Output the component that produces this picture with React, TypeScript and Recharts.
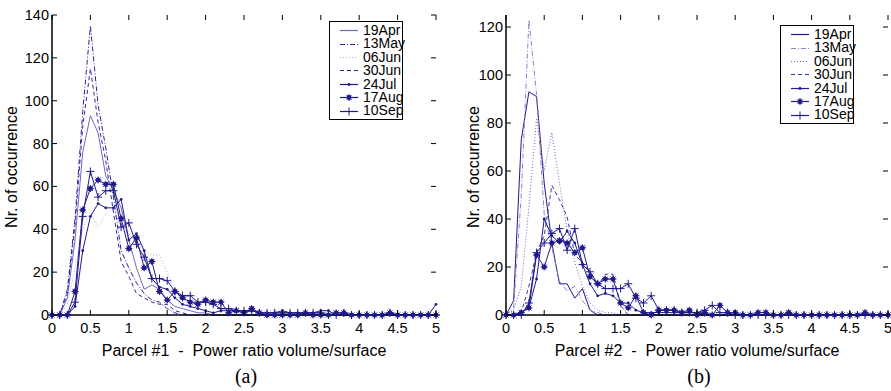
import { LineChart, Line, XAxis, YAxis } from "recharts";

// histogram bins (power ratio volume/surface)
const BINS = [
  0, 0.1, 0.2, 0.3, 0.4, 0.5, 0.6, 0.7, 0.8, 0.9,
  1, 1.1, 1.2, 1.3, 1.4, 1.5, 1.6, 1.7, 1.8, 1.9,
  2, 2.1, 2.2, 2.3, 2.4, 2.5, 2.6, 2.7, 2.8, 2.9,
  3, 3.1, 3.2, 3.3, 3.4, 3.5, 3.6, 3.7, 3.8, 3.9,
  4, 4.1, 4.2, 4.3, 4.4, 4.5, 4.6, 4.7, 4.8, 4.9, 5,
];
const X_TICKS = [0, 0.5, 1, 1.5, 2, 2.5, 3, 3.5, 4, 4.5, 5];
const A_Y_TICKS = [0, 20, 40, 60, 80, 100, 120, 140];
const B_Y_TICKS = [0, 20, 40, 60, 80, 100, 120];
const DATES = ["19Apr", "13May", "06Jun", "30Jun", "24Jul", "17Aug", "10Sep"];

// Parcel #1
const A_19APR = [
  0, 0, 8, 35, 76, 93, 85, 65, 58, 50,
  35, 22, 12, 14, 12, 7, 4, 3, 2, 1,
  1, 0, 0, 0, 0, 0, 0, 0, 0, 0,
  0, 0, 0, 0, 0, 0, 0, 0, 0, 0,
  0, 0, 0, 0, 0, 0, 0, 0, 0, 0, 0,
];
const A_13MAY = [
  0, 0, 12, 45, 95, 135, 98, 78, 55, 30,
  22, 15, 10, 7, 6, 3, 1, 0, 0, 0,
  0, 0, 0, 0, 0, 0, 0, 0, 0, 0,
  0, 0, 0, 0, 0, 0, 0, 0, 0, 0,
  0, 0, 0, 0, 0, 0, 0, 0, 0, 0, 0,
];
const A_06JUN = [
  0, 0, 5, 22, 40, 48, 41, 47, 50, 47,
  38, 33, 30, 28, 28, 20, 12, 9, 10, 8,
  5, 4, 3, 2, 2, 2, 1, 1, 2, 2,
  1, 1, 1, 0, 0, 0, 0, 0, 0, 0,
  0, 0, 0, 0, 0, 0, 0, 0, 0, 0, 0,
];
const A_30JUN = [
  0, 0, 10, 42, 88, 115, 90, 72, 48, 25,
  18, 10, 8, 6, 5, 5, 2, 1, 0, 0,
  0, 0, 0, 0, 0, 0, 0, 0, 0, 0,
  0, 0, 0, 0, 0, 0, 0, 0, 0, 0,
  0, 0, 0, 0, 0, 0, 0, 0, 0, 0, 0,
];
const A_24JUL = [
  0, 0, 0, 4, 30, 46, 52, 50, 50, 54,
  35, 38, 30, 17, 13, 12, 8, 5, 4, 3,
  2, 1, 2, 2, 2, 1, 2, 1, 1, 1,
  2, 1, 1, 1, 1, 2, 2, 0, 0, 0,
  0, 0, 0, 0, 0, 0, 0, 0, 0, 0, 5,
];
const A_17AUG = [
  0, 0, 0, 11, 49, 59, 63, 61, 61, 45,
  31, 36, 22, 25, 11, 7, 11, 8, 6, 5,
  7, 6, 6, 1, 2, 1, 3, 1, 0, 0,
  0, 0, 0, 1, 0, 0, 0, 1, 1, 0,
  0, 0, 0, 0, 1, 0, 0, 0, 0, 0, 0,
];
const A_10SEP = [
  0, 0, 0, 6, 46, 67, 55, 58, 58, 41,
  43, 33, 27, 17, 17, 16, 11, 9, 9, 6,
  6, 5, 3, 3, 2, 2, 2, 1, 1, 1,
  1, 1, 1, 1, 1, 1, 0, 0, 1, 0,
  0, 0, 0, 0, 1, 0, 0, 0, 0, 0, 0,
];

// Parcel #2
const B_19APR = [
  0, 6, 73, 93, 91, 55, 30, 13, 13, 7,
  11, 2, 0, 0, 0, 0, 0, 0, 0, 0,
  0, 0, 0, 0, 0, 0, 0, 0, 0, 0,
  0, 0, 0, 0, 0, 0, 0, 0, 0, 0,
  0, 0, 0, 0, 0, 0, 0, 0, 0, 0, 0,
];
const B_13MAY = [
  0, 3, 50, 123, 92, 42, 28, 14, 10, 12,
  6, 2, 1, 0, 0, 0, 0, 0, 0, 0,
  0, 0, 0, 0, 0, 0, 0, 0, 0, 0,
  0, 0, 0, 0, 0, 0, 0, 0, 0, 0,
  0, 0, 0, 0, 0, 0, 0, 0, 0, 0, 0,
];
const B_06JUN = [
  0, 2, 12, 45, 82, 60, 76, 55, 35, 22,
  12, 5, 2, 1, 1, 0, 0, 0, 0, 0,
  0, 0, 0, 0, 0, 0, 0, 0, 0, 0,
  0, 0, 0, 0, 0, 0, 0, 0, 0, 0,
  0, 0, 0, 0, 0, 0, 0, 0, 0, 0, 0,
];
const B_30JUN = [
  0, 0, 1, 12, 26, 33, 54, 48, 41, 25,
  22, 18, 12, 17, 17, 4, 0, 0, 0, 0,
  0, 0, 0, 0, 0, 0, 0, 0, 0, 0,
  0, 0, 0, 0, 0, 0, 0, 0, 0, 0,
  0, 0, 0, 0, 0, 0, 0, 0, 0, 0, 0,
];
const B_24JUL = [
  0, 0, 1, 3, 15, 40, 33, 30, 35, 30,
  21, 13, 8, 9, 8, 5, 5, 2, 1, 1,
  1, 1, 1, 1, 1, 1, 0, 0, 0, 0,
  0, 0, 0, 0, 0, 0, 0, 0, 0, 0,
  0, 0, 0, 0, 0, 0, 0, 0, 0, 0, 0,
];
const B_17AUG = [
  0, 0, 1, 3, 25, 20, 30, 31, 30, 26,
  28, 16, 13, 15, 15, 5, 3, 8, 1, 0,
  2, 2, 2, 1, 2, 0, 1, 0, 4, 1,
  1, 0, 0, 1, 1, 0, 0, 1, 0, 0,
  0, 0, 0, 0, 0, 0, 0, 1, 0, 0, 0,
];
const B_10SEP = [
  0, 0, 0, 5, 26, 30, 34, 36, 27, 36,
  21, 18, 13, 11, 11, 11, 13, 7, 5, 8,
  2, 2, 2, 1, 1, 1, 2, 4, 1, 1,
  0, 0, 0, 0, 0, 0, 0, 0, 0, 0,
  0, 0, 0, 0, 0, 0, 0, 0, 0, 0, 0,
];

const A_SERIES = [A_19APR, A_13MAY, A_06JUN, A_30JUN, A_24JUL, A_17AUG, A_10SEP];
const B_SERIES = [B_19APR, B_13MAY, B_06JUN, B_30JUN, B_24JUL, B_17AUG, B_10SEP];

const NAVY = "#1f1a8c";
const A_COLORS = ["#6f68c0", "#2a229e", "#b3afdc", "#2f28a4", NAVY, NAVY, NAVY];
const B_COLORS = [NAVY, "#8a84cc", "#6d66bc", "#3a32a8", NAVY, NAVY, NAVY];
const DASHES = [undefined, "5 2 1 2", "1 2", "4 3", undefined, undefined, undefined];
const MARKERS = ["none", "none", "none", "none", "dot", "star", "plus"];

const FONT = "'Liberation Sans', Arial, Helvetica, sans-serif";

function toRows(series: number[][]) {
  return BINS.map((x, i) => {
    const row: Record<string, number> = { x };
    series.forEach((s, k) => (row[DATES[k]] = s[i]));
    return row;
  });
}

function Marker({ kind, cx, cy, color }: { kind: string; cx: number; cy: number; color: string }) {
  if (kind === "dot") return <circle cx={cx} cy={cy} r={1.4} fill={color} />;
  if (kind === "plus")
    return (
      <g stroke={color} strokeWidth={1}>
        <line x1={cx - 4} x2={cx + 4} y1={cy} y2={cy} />
        <line x1={cx} x2={cx} y1={cy - 4} y2={cy + 4} />
      </g>
    );
  if (kind === "star")
    return (
      <g stroke={color} strokeWidth={1}>
        <line x1={cx - 3.5} x2={cx + 3.5} y1={cy} y2={cy} />
        <line x1={cx} x2={cx} y1={cy - 3.5} y2={cy + 3.5} />
        <line x1={cx - 2.5} x2={cx + 2.5} y1={cy - 2.5} y2={cy + 2.5} />
        <line x1={cx - 2.5} x2={cx + 2.5} y1={cy + 2.5} y2={cy - 2.5} />
        <circle cx={cx} cy={cy} r={2} fill={color} />
      </g>
    );
  return null;
}

function XTick(props: any) {
  const { x, payload, top, bottom } = props;
  return (
    <g>
      <line x1={x} x2={x} y1={bottom} y2={bottom - 5} stroke="#000" />
      <line x1={x} x2={x} y1={top} y2={top + 5} stroke="#000" />
      <text x={x} y={bottom + 18} textAnchor="middle" fontSize={14.5} fill="#000">
        {payload.value}
      </text>
    </g>
  );
}

function YTick(props: any) {
  const { y, payload, left, right } = props;
  return (
    <g>
      <line x1={left} x2={left + 5} y1={y} y2={y} stroke="#000" />
      <line x1={right} x2={right - 5} y1={y} y2={y} stroke="#000" />
      <text x={left - 3} y={y + 5} textAnchor="end" fontSize={14.5} fill="#000">
        {payload.value}
      </text>
    </g>
  );
}

function LegendBox({ colors, left, top }: { colors: string[]; left: number; top: number }) {
  return (
    <div
      style={{
        position: "absolute",
        left,
        top,
        width: 72,
        border: "1.5px solid #000",
        background: "#fff",
        fontFamily: FONT,
        fontSize: 14,
        padding: "2px 0 1px",
      }}
    >
      {DATES.map((d, k) => (
        <div key={d} style={{ display: "flex", alignItems: "center", height: 13.4, lineHeight: "13.4px" }}>
          <svg width={33} height={13} style={{ flex: "none" }}>
            <line x1={10} x2={28} y1={6.5} y2={6.5} stroke={colors[k]} strokeWidth={1.2} strokeDasharray={DASHES[k]} />
            <Marker kind={MARKERS[k]} cx={19} cy={6.5} color={colors[k]} />
          </svg>
          <span style={{ whiteSpace: "nowrap" }}>{d}</span>
        </div>
      ))}
    </div>
  );
}

type PanelProps = {
  series: number[][];
  colors: string[];
  yMax: number;
  yTicks: number[];
  axisWidth: number;
  width: number;
  marginRight: number;
  labelX: number;
  parcel: string;
  tag: string;
  legendPos: { left: number; top: number };
};

function Panel({ series, colors, yMax, yTicks, axisWidth, width, marginRight, labelX, parcel, tag, legendPos }: PanelProps) {
  const top = 15;
  const bottom = 315;
  const left = axisWidth;
  const right = width - marginRight;
  const rows = toRows(series);
  return (
    <div style={{ position: "relative", width, height: 391 }}>
      <LineChart width={width} height={391} data={rows} margin={{ top, right: marginRight, bottom: 26, left: 0 }}>
        <XAxis
          dataKey="x"
          type="number"
          domain={[0, 5]}
          ticks={X_TICKS}
          interval={0}
          height={50}
          tickLine={false}
          axisLine={{ stroke: "#000", strokeWidth: 1.5 }}
          tick={<XTick top={top} bottom={bottom} />}
          label={{
            content: (p: any) => {
              const vb = p.viewBox;
              const cx = vb.x + vb.width / 2;
              return (
                <g>
                  <text x={cx} y={356} textAnchor="middle" fontSize={16} fill="#000" style={{ whiteSpace: "pre" }}>
                    {`Parcel #${parcel}  -  Power ratio volume/surface`}
                  </text>
                  <text x={cx + 2} y={383} textAnchor="middle" fontSize={20} fill="#000" fontFamily="'Liberation Serif', 'Times New Roman', serif">
                    {tag}
                  </text>
                </g>
              );
            },
          }}
        />
        <XAxis xAxisId="top" orientation="top" dataKey="x" type="number" domain={[0, 5]} tick={false} tickLine={false} height={0} axisLine={{ stroke: "#000", strokeWidth: 1.5 }} />
        <YAxis
          type="number"
          domain={[0, yMax]}
          ticks={yTicks}
          interval={0}
          width={axisWidth}
          tickLine={false}
          axisLine={{ stroke: "#000", strokeWidth: 1.5 }}
          tick={<YTick left={left} right={right} />}
          label={{
            content: (p: any) => {
              const vb = p.viewBox;
              const cx = vb.x + labelX;
              const cy = vb.y + vb.height / 2 + 2;
              return (
                <text x={cx} y={cy} transform={`rotate(-90 ${cx} ${cy})`} textAnchor="middle" dominantBaseline="middle" fontSize={16} fill="#000">
                  Nr. of occurrence
                </text>
              );
            },
          }}
        />
        <YAxis yAxisId="right" orientation="right" domain={[0, yMax]} tick={false} tickLine={false} width={0} axisLine={{ stroke: "#000", strokeWidth: 1.5 }} />
        {DATES.map((d, k) => (
          <Line
            key={d}
            dataKey={d}
            type="linear"
            stroke={colors[k]}
            strokeWidth={1}
            strokeDasharray={DASHES[k]}
            isAnimationActive={false}
            dot={
              MARKERS[k] === "none"
                ? false
                : (p: any) => <Marker key={`${d}-${p.index}`} kind={MARKERS[k]} cx={p.cx} cy={p.cy} color={colors[k]} />
            }
            activeDot={false}
          />
        ))}
      </LineChart>
      <LegendBox colors={colors} left={legendPos.left} top={legendPos.top} />
    </div>
  );
}

export default function App() {
  return (
    <div style={{ position: "absolute", left: 0, top: 0, width: 891, height: 391, background: "#fff", fontFamily: FONT, display: "flex" }}>
      <Panel
        series={A_SERIES}
        colors={A_COLORS}
        yMax={140}
        yTicks={A_Y_TICKS}
        axisWidth={52}
        width={445}
        marginRight={9}
        labelX={13}
        parcel="1"
        tag="(a)"
        legendPos={{ left: 329, top: 21 }}
      />
      <Panel
        series={B_SERIES}
        colors={B_COLORS}
        yMax={125}
        yTicks={B_Y_TICKS}
        axisWidth={61}
        width={446}
        marginRight={3}
        labelX={30}
        parcel="2"
        tag="(b)"
        legendPos={{ left: 335, top: 25 }}
      />
    </div>
  );
}
